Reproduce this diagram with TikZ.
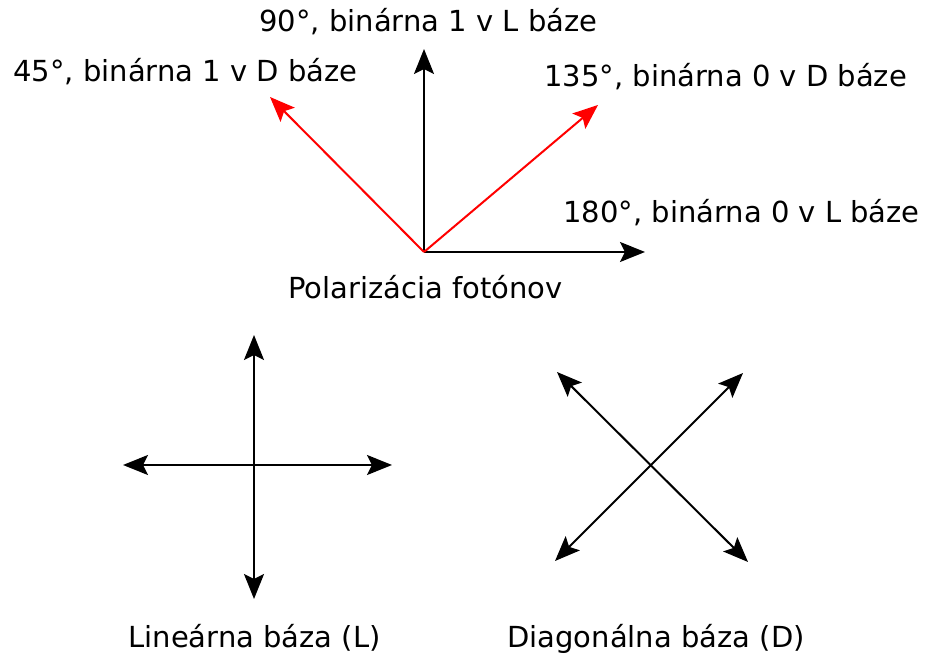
\documentclass[tikz,border=0pt]{standalone}
\usepackage{fontspec}
\setmainfont{DejaVu Sans}
\usepackage{tikz}
\usetikzlibrary{arrows.meta}

\begin{document}
\begin{tikzpicture}[x=0.5pt,y=-0.5pt,
    vec/.style={line width=1pt,-{Stealth[length=12.5pt,width=10pt,inset=2.5pt]}},
    dvec/.style={line width=1pt,{Stealth[length=12.5pt,width=10pt,inset=2.5pt]}-{Stealth[length=12.5pt,width=10pt,inset=2.5pt]}},
    lbl/.style={anchor=base west,inner sep=0pt,font=\fontsize{14.5pt}{17pt}\selectfont}]

  \useasboundingbox (0,0) rectangle (925,656);

  %% Polarizacia
  \coordinate (o) at (424,252);
  \coordinate (t90) at (424,49);
  \coordinate (t180) at (645,252);
  \coordinate (t45) at (270,97);
  \coordinate (t135) at (598,105);

  \draw[vec] (o)--(t90);
  \draw[vec] (o)--(t180);
  \draw[vec,red] (o)--(t45);
  \draw[vec,red] (o)--(t135);

  \node[lbl] (l90) at (259,32) {90°, binárna 1 v L báze};
  \node[lbl] (l45) at (13,82) {45°, binárna 1 v D báze};
  \node[lbl] (l135) at (544,87) {135°, binárna 0 v D báze};
  \node[lbl] (l180) at (563,223) {180°, binárna 0 v L báze};
  \node[lbl] (lpol) at (288,299) {Polarizácia fotónov};

  %% Linearna baza
  \coordinate (lu) at (254,335);
  \coordinate (ld) at (254,599);
  \coordinate (ll) at (123,465);
  \coordinate (lr) at (392,465);
  \draw[dvec] (ld)--(lu);
  \draw[dvec] (ll)--(lr);
  \node[lbl] (llin) at (128,647) {Lineárna báza (L)};

  %% Diagonalna baza
  \coordinate (dul) at (557,372);
  \coordinate (dur) at (743,373);
  \coordinate (ddl) at (555,561);
  \coordinate (ddr) at (748,562);
  \draw[dvec] (dul)--(ddr);
  \draw[dvec] (ddl)--(dur);
  \node[lbl] (ldiag) at (507,647) {Diagonálna báza (D)};

\end{tikzpicture}
\end{document}
